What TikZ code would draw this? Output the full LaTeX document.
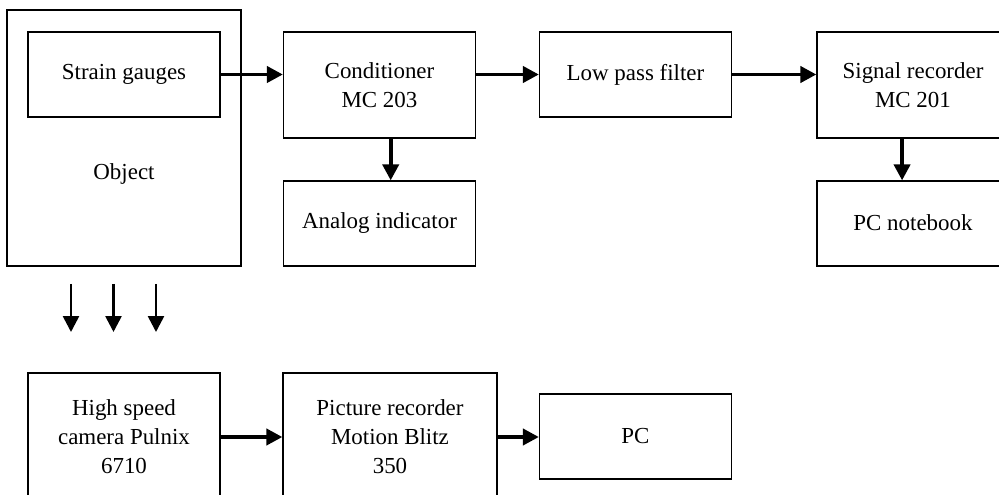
\documentclass[tikz,border=0pt]{standalone}
\usepackage{fontspec}
\setmainfont{Liberation Serif}
\usetikzlibrary{arrows.meta,positioning,calc}
\begin{document}
\begin{tikzpicture}[x=0.75pt, y=-0.75pt, line width=0.9pt,
  block/.style={rectangle,draw,minimum width=144pt,minimum height=63.75pt,inner sep=0pt,align=center,font={\fontsize{17.2}{21.7}\selectfont}},
  txt/.style={inner sep=0pt,align=center,font={\fontsize{17.2}{21.7}\selectfont}},
  flow/.style={-{Triangle[length=12pt,width=12pt]},line width=2.9pt},
  ray/.style={-{Triangle[length=12pt,width=12pt]},line width=2pt}]%
\useasboundingbox (0,0) rectangle (999,495);
\clip (0,0) rectangle (999,495);
\begin{scope}
\node[block,minimum width=175.5pt,minimum height=192pt] (obj) at (124,138) {};
\node[txt] (objtxt) at (124,174) {Object};
\node[block] (sg) at (124,74.5) {\raisebox{2pt}{Strain gauges}};
\node[block,minimum height=79.5pt] (cond) at (379.5,85) {Conditioner\\MC 203};
\node[block] (ai) at (379.5,223.5) {\raisebox{2pt}{Analog indicator}};
\node[block] (lpf) at (635.5,74.5) {\raisebox{2pt}{Low pass filter}};
\node[block,minimum height=79.5pt] (sr) at (913,85) {Signal recorder\\MC 201};
\node[block] (pcn) at (913,223.5) {\raisebox{2pt}{PC notebook}};
\node[block,minimum height=96pt] (cam) at (124,437) {High speed\\camera Pulnix\\6710};
\node[block,minimum width=160.5pt,minimum height=96pt] (prec) at (390,437) {Picture recorder\\Motion Blitz\\350};
\node[block] (pc) at (635.5,436.5) {PC};
%\node[block] (x) at (,) {};
\end{scope}
\begin{scope}
\draw[flow] (sg.east) -- (sg.east -| cond.west);
\draw[flow] (lpf.west -| cond.east) -- (lpf.west);
\draw[flow] (lpf.east) -- (lpf.east -| sr.west);
\draw[flow] ([xshift=8.4pt]cond.south) -- ([xshift=8.4pt]cond.south |- ai.north);
\draw[flow] ([xshift=-8.2pt]sr.south) -- ([xshift=-8.2pt]sr.south |- pcn.north);
\draw[flow] (cam.east) -- (prec.west);
\draw[flow] (prec.east) -- (prec.east -| pc.west);
\foreach \i/\x in {1/71,2/113.5,3/156} {
  \coordinate (ls\i) at (\x,284);
  \coordinate (le\i) at (\x,332);
  \draw[ray] (ls\i) -- (le\i);
}
\end{scope}
\end{tikzpicture}
\end{document}
